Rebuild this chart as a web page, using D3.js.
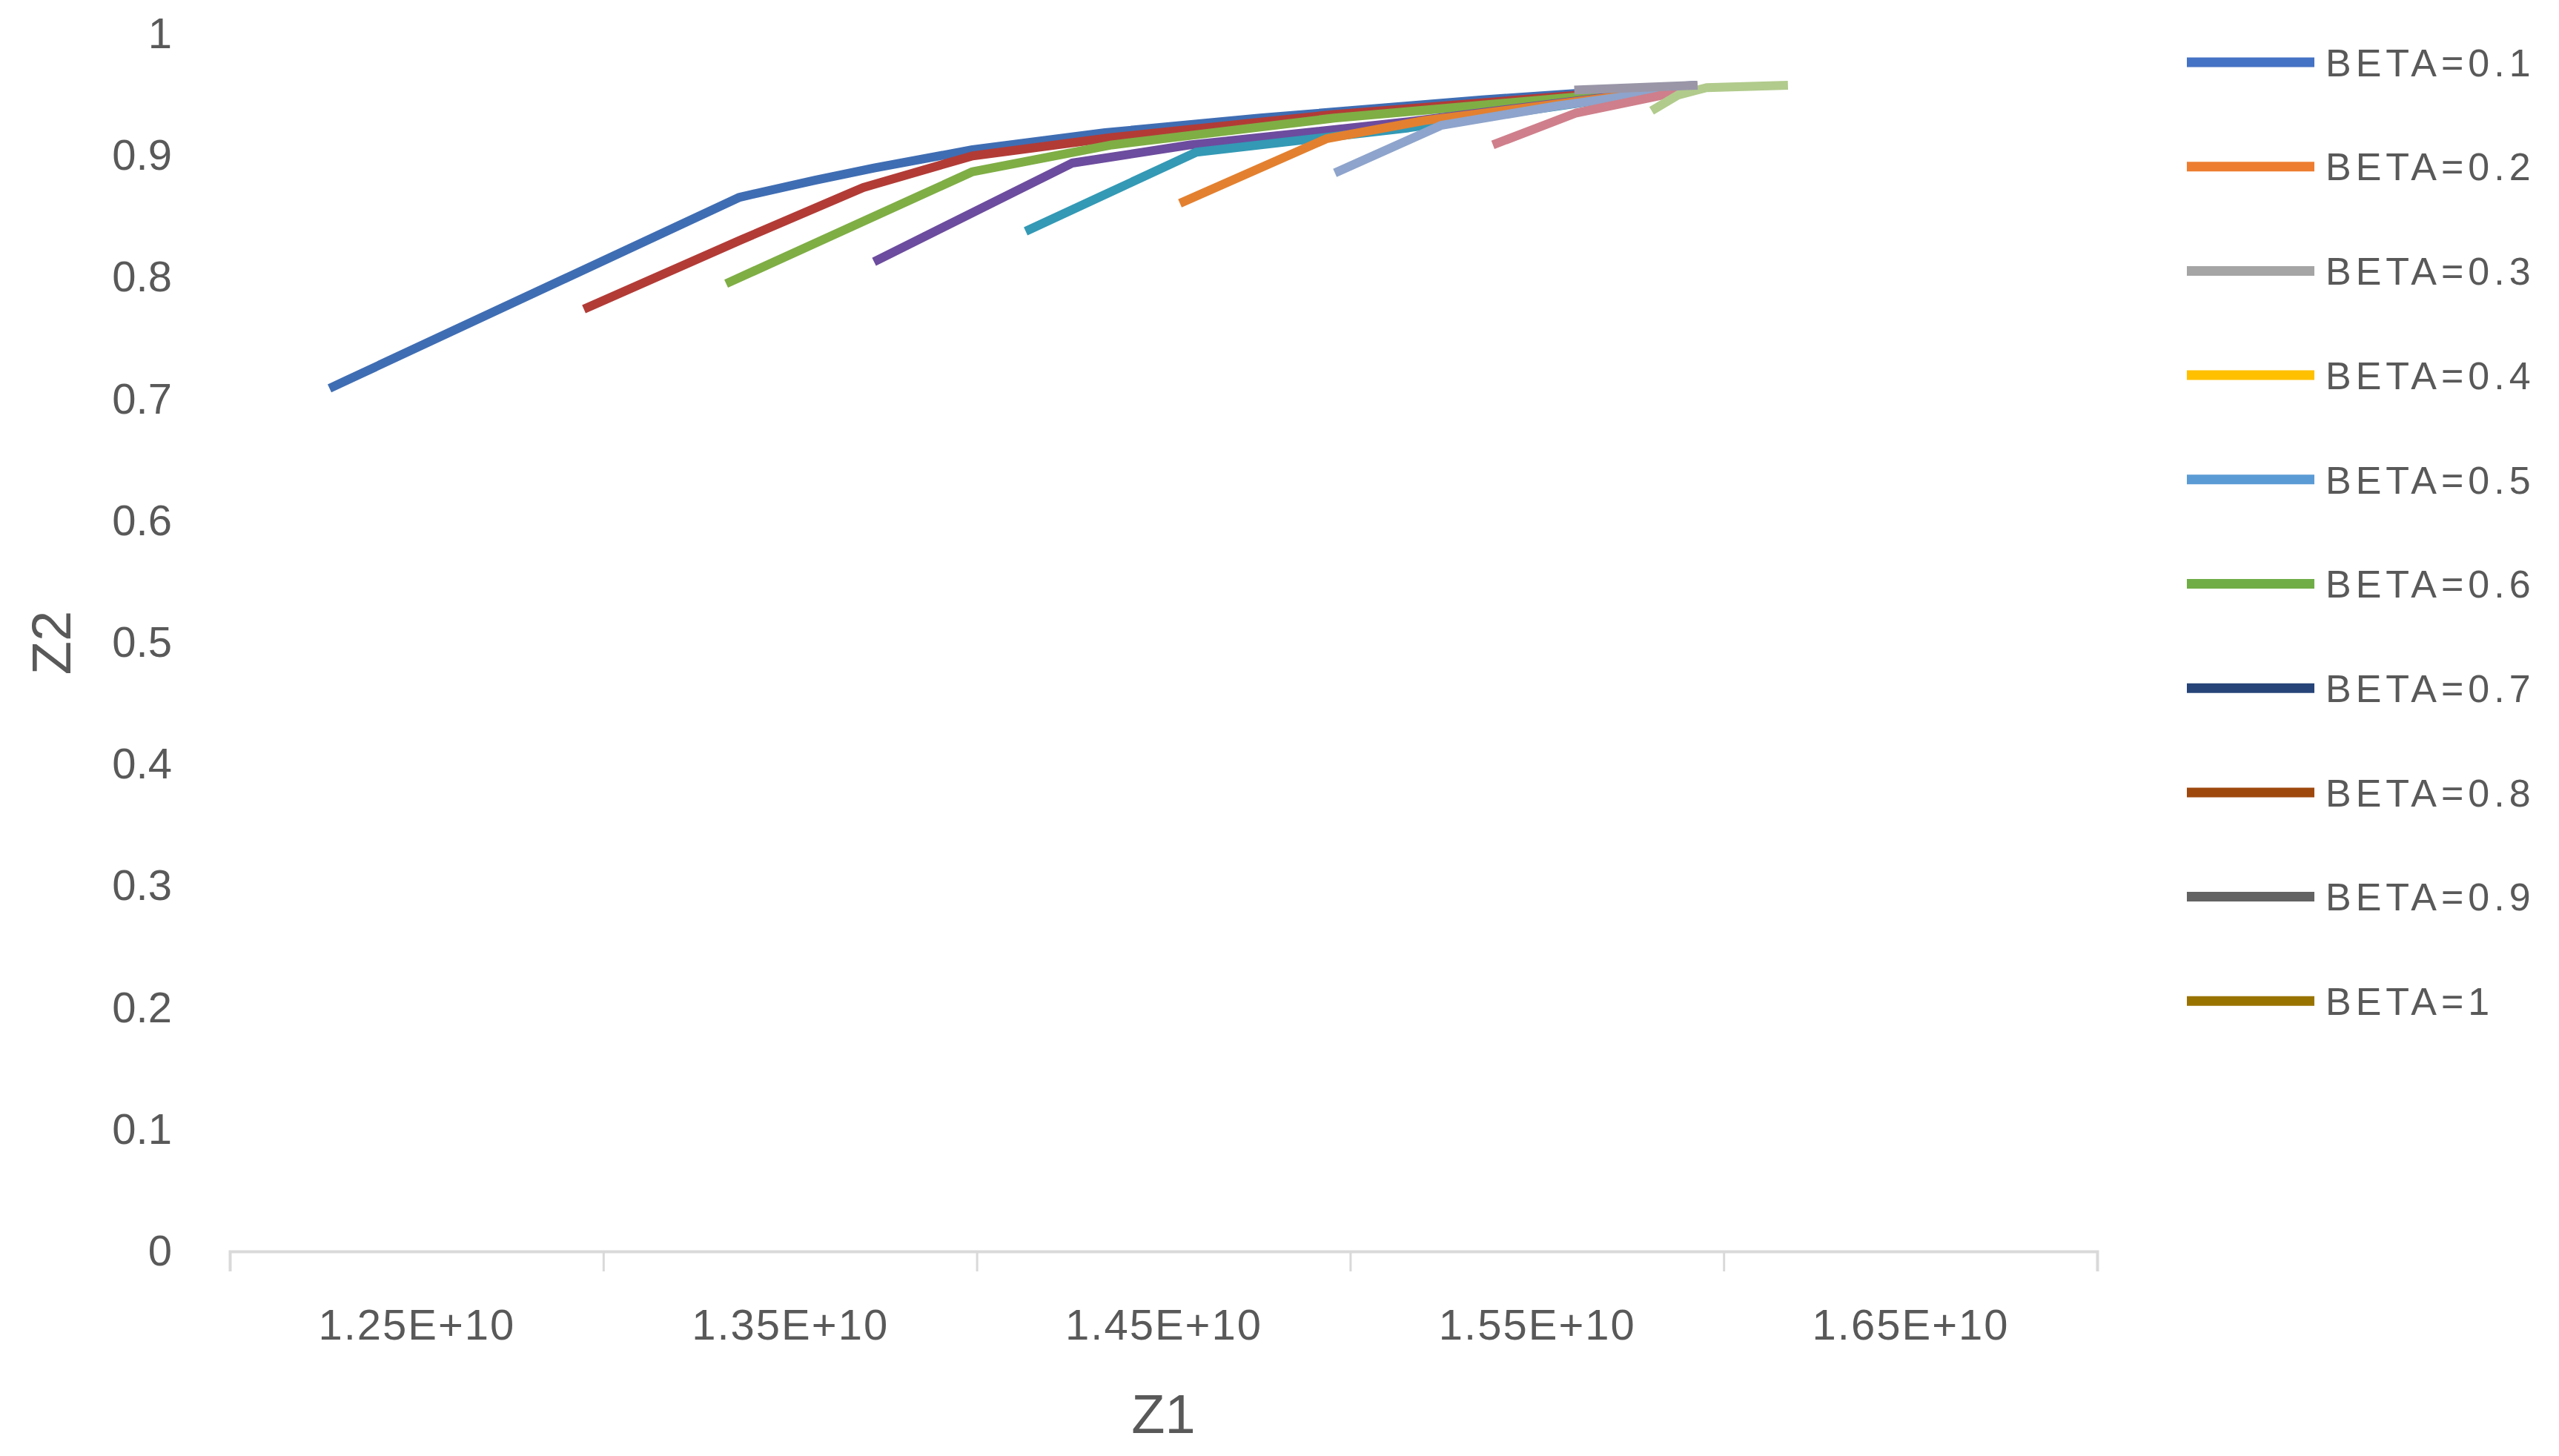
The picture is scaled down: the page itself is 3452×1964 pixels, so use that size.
<!DOCTYPE html>
<html>
<head>
<meta charset="utf-8">
<script src="https://cdn.jsdelivr.net/npm/d3@7"></script>
<style>
  html, body { margin: 0; padding: 0; background: #fff; }
  svg text { font-family: "Liberation Sans", Arial, sans-serif; fill: #595959; }
</style>
</head>
<body>
<div id="chart"></div>
<script>
// legend names, one per series
const betaLabels = ["BETA=0.1", "BETA=0.2", "BETA=0.3", "BETA=0.4", "BETA=0.5",
                    "BETA=0.6", "BETA=0.7", "BETA=0.8", "BETA=0.9", "BETA=1"];

// Z1 values (x1e10) per series
const z1Values = [
    [1.2267, 1.3365, 1.3567, 1.3725, 1.3989, 1.4344, 1.4759, 1.5354, 1.5928],
    [1.2948, 1.3369, 1.3696, 1.3989, 1.4362, 1.4957, 1.5910],
    [1.3329, 1.3989, 1.4362, 1.4957, 1.5930],
    [1.3725, 1.4255, 1.4572, 1.5156, 1.5920],
    [1.4131, 1.4588, 1.5156, 1.5920],
    [1.4544, 1.4936, 1.5198, 1.5930],
    [1.4959, 1.5243, 1.5553, 1.5930],
    [1.5382, 1.5603, 1.5807, 1.5930],
    [1.5807, 1.5878, 1.5954, 1.6172],
    [1.5600, 1.5930]
];

// Z2 values per series
const z2Values = [
    [0.709, 0.866, 0.880, 0.890, 0.905, 0.919, 0.931, 0.946, 0.958],
    [0.774, 0.831, 0.874, 0.900, 0.915, 0.934, 0.957],
    [0.795, 0.887, 0.909, 0.931, 0.957],
    [0.813, 0.894, 0.909, 0.928, 0.957],
    [0.838, 0.903, 0.923, 0.957],
    [0.861, 0.914, 0.929, 0.957],
    [0.886, 0.925, 0.941, 0.957],
    [0.909, 0.935, 0.948, 0.956],
    [0.937, 0.950, 0.956, 0.958],
    [0.954, 0.958]
];

const xTickMarks = [1.2e10, 1.3e10, 1.4e10, 1.5e10, 1.6e10, 1.7e10];
const xTickLabels = [1.25e10, 1.35e10, 1.45e10, 1.55e10, 1.65e10];
const yTicks = [0, 0.1, 0.2, 0.3, 0.4, 0.5, 0.6, 0.7, 0.8, 0.9, 1];

// plot line colours (as drawn) and legend colours (as shown in the key)
const lineColors = ["#3f6db3", "#b23b36", "#7fae45", "#6c4c9e", "#3399b5",
                    "#e3802f", "#8ea4cc", "#cf7f8b", "#b1cb8c", "#9a96a8"];
const legendColors = ["#4472c4", "#ed7d31", "#a5a5a5", "#ffc000", "#5b9bd5",
                      "#70ad47", "#264478", "#9e480e", "#636363", "#997300"];

const W = 3452, H = 1964;
const plot = {left: 310, right: 2829, top: 46, bottom: 1688};

const svg = d3.select("#chart").append("svg")
    .attr("width", W)
    .attr("height", H);

const x = d3.scaleLinear().domain([1.2e10, 1.7e10]).range([plot.left, plot.right]);
const y = d3.scaleLinear().domain([0, 1]).range([plot.bottom, plot.top]);

// x axis line + tick marks
const xAxisMarks = svg.append("g")
    .attr("transform", `translate(0,${plot.bottom})`)
    .call(d3.axisBottom(x).tickValues(xTickMarks).tickSize(27).tickFormat(""));
xAxisMarks.select(".domain").attr("stroke", "#d9d9d9").attr("stroke-width", 4);
xAxisMarks.selectAll(".tick line").attr("stroke", "#d9d9d9").attr("stroke-width", 3);

// x labels sit between the tick marks
const xAxisLabels = svg.append("g")
    .attr("transform", `translate(0,${plot.bottom})`)
    .call(d3.axisBottom(x).tickValues(xTickLabels).tickSize(0).tickPadding(78)
        .tickFormat(d => (d / 1e10).toFixed(2) + "E+10"));
xAxisLabels.select(".domain").remove();
xAxisLabels.selectAll("text")
    .attr("font-size", 58)
    .attr("font-family", null)
    .attr("fill", null)
    .attr("letter-spacing", 2);

// y axis: labels only
const yAxis = svg.append("g")
    .attr("transform", `translate(${plot.left},0)`)
    .call(d3.axisLeft(y).tickValues(yTicks).tickSize(0).tickPadding(78)
        .tickFormat(d => String(+d.toFixed(1))));
yAxis.select(".domain").remove();
yAxis.selectAll("text")
    .attr("font-size", 58)
    .attr("font-family", null)
    .attr("fill", null);

// axis titles
svg.append("text")
    .attr("x", x(1.45e10))
    .attr("y", 1933)
    .attr("text-anchor", "middle")
    .attr("font-size", 74)
    .text("Z1");

svg.append("text")
    .attr("transform", `translate(95,${y(0.5)}) rotate(-90)`)
    .attr("text-anchor", "middle")
    .attr("font-size", 74)
    .text("Z2");

// series lines
const line = d3.line()
    .x(d => x(d[0]))
    .y(d => y(d[1]));

betaLabels.forEach((name, i) => {
    const pts = z1Values[i].map((v, j) => [v * 1e10, z2Values[i][j]]);
    svg.append("path")
        .datum(pts)
        .attr("fill", "none")
        .attr("stroke", lineColors[i])
        .attr("stroke-width", 12)
        .attr("stroke-linejoin", "round")
        .attr("d", line);
});

// legend
const legend = svg.append("g").attr("transform", "translate(2950,84)");
betaLabels.forEach((name, i) => {
    const row = legend.append("g").attr("transform", `translate(0,${i * 140.7})`);
    row.append("line")
        .attr("x1", 0).attr("x2", 172)
        .attr("y1", 0).attr("y2", 0)
        .attr("stroke", legendColors[i])
        .attr("stroke-width", 13);
    row.append("text")
        .attr("x", 187)
        .attr("y", 0)
        .attr("dy", "0.36em")
        .attr("font-size", 52)
        .attr("letter-spacing", 6)
        .text(name);
});
</script>
</body>
</html>
